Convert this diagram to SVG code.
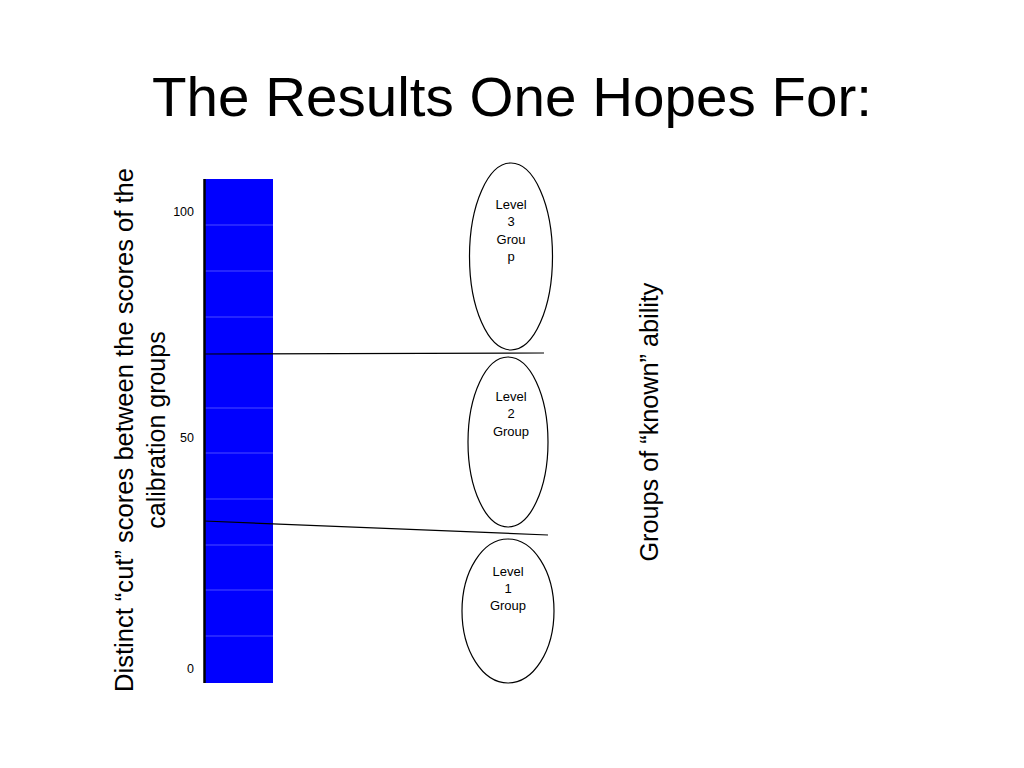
<svg xmlns="http://www.w3.org/2000/svg" width="1024" height="768" viewBox="0 0 1024 768">
<style>
text{font-family:"Liberation Sans",Arial,sans-serif;fill:#000}
.t{font-size:13px;text-anchor:middle}
.ax{font-size:12.5px;text-anchor:end}
.big{font-size:25px;text-anchor:middle}
.ell{fill:#fff;stroke:#000;stroke-width:1.2}
.grid{stroke:#4a4aff;stroke-width:1}
.cut{stroke:#000;stroke-width:1.2;fill:none}
</style>
<rect width="1024" height="768" fill="#fff"/>
<text x="512" y="116" font-size="56" text-anchor="middle" textLength="720" lengthAdjust="spacingAndGlyphs">The Results One Hopes For:</text>
<g id="bar">
<rect x="204" y="179" width="69" height="504" fill="#0000ff"/>
<g class="grid">
<line x1="205" y1="225" x2="273" y2="225"/>
<line x1="205" y1="271" x2="273" y2="271"/>
<line x1="205" y1="317" x2="273" y2="317"/>
<line x1="205" y1="408" x2="273" y2="408"/>
<line x1="205" y1="453" x2="273" y2="453"/>
<line x1="205" y1="499" x2="273" y2="499"/>
<line x1="205" y1="545" x2="273" y2="545"/>
<line x1="205" y1="590" x2="273" y2="590"/>
<line x1="205" y1="636" x2="273" y2="636"/>
</g>
<line x1="204.5" y1="179" x2="204.5" y2="683" stroke="#000" stroke-width="2.5"/>
</g>
<g id="axis-labels">
<text class="ax" x="194" y="216">100</text>
<text class="ax" x="194" y="442">50</text>
<text class="ax" x="194" y="673">0</text>
</g>
<g id="connectors">
<line class="cut" x1="204" y1="354" x2="544" y2="353"/>
<line class="cut" x1="204" y1="521" x2="548" y2="535"/>
</g>
<g id="level3">
<ellipse class="ell" cx="511" cy="256.5" rx="41.5" ry="93.5"/>
<text class="t" x="511" y="209">Level</text>
<text class="t" x="511" y="226">3</text>
<text class="t" x="511" y="244">Grou</text>
<text class="t" x="511" y="261">p</text>
</g>
<g id="level2">
<ellipse class="ell" cx="508" cy="442" rx="40" ry="85"/>
<text class="t" x="511" y="401">Level</text>
<text class="t" x="511" y="418">2</text>
<text class="t" x="511" y="436">Group</text>
</g>
<g id="level1">
<ellipse class="ell" cx="508" cy="611" rx="46" ry="72"/>
<text class="t" x="508" y="576">Level</text>
<text class="t" x="508" y="593">1</text>
<text class="t" x="508" y="610">Group</text>
</g>
<g id="left-label">
<text class="big" transform="translate(133,430) rotate(-90)" x="0" y="0" textLength="524" lengthAdjust="spacingAndGlyphs">Distinct “cut” scores between the scores of the</text>
<text class="big" transform="translate(165,430) rotate(-90)" x="0" y="0">calibration groups</text>
</g>
<g id="right-label">
<text class="big" transform="translate(658,422) rotate(-90)" x="0" y="0" textLength="279" lengthAdjust="spacingAndGlyphs">Groups of “known” ability</text>
</g>
</svg>
